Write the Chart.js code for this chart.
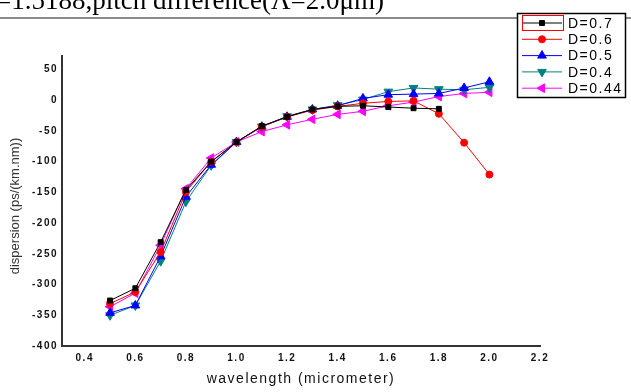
<!DOCTYPE html>
<html>
<head>
<meta charset="utf-8">
<script src="https://cdn.jsdelivr.net/npm/chart.js@4.4.0/dist/chart.umd.min.js"></script>
<style>
  body { margin: 0; background: #fff; }
</style>
</head>
<body>
<canvas id="dispChart" width="631" height="392"></canvas>

<script>
// values (ps/(km.nm)) against wavelength in micrometer
var wavelength = [0.5, 0.6, 0.7, 0.8, 0.9, 1.0, 1.1, 1.2, 1.3, 1.4, 1.5, 1.6, 1.7, 1.8, 1.9, 2.0];
var d07  = [-326, -306, -231, -146, -100, -68, -42, -27, -15, -10, -9, -11, -13, -14];
var d06  = [-331, -312, -247, -149, -100, -68, -43, -27, -16, -10, -5, -2, -1, -22, -69, -121];
var d05  = [-346, -334, -254, -157, -105, -68, -43, -27, -15, -9, 3, 9, 10, 11, 20, 30];
var d04  = [-350, -334, -262, -165, -106, -68, -43, -26, -15, -8, 1, 14, 20, 18, 17, 21];
var d044 = [-336, -314, -236, -144, -94, -68, -51, -40, -31, -23, -18, -9, -3, 6, 11, 13];

var seriesNames = ["D=0.7", "D=0.6", "D=0.5", "D=0.4", "D=0.44"];
var xTicks = [0.4, 0.6, 0.8, 1.0, 1.2, 1.4, 1.6, 1.8, 2.0, 2.2];
var yTicks = [-400, -350, -300, -250, -200, -150, -100, -50, 0, 50];
var heading = "=1.5188,pitch difference(\u039B=2.0\u03BCm)";
var yTitle = "dispersion (ps/(km.nm))";

function toPoints(ys) {
  return ys.map(function (v, i) { return { x: wavelength[i], y: v }; });
}

function series(label, ys, color, style, rot, r) {
  return {
    label: label,
    data: toPoints(ys),
    borderColor: color,
    backgroundColor: color,
    borderWidth: 1,
    pointStyle: style,
    pointRotation: rot,
    pointRadius: r,
    pointBorderWidth: 1,
    tension: 0
  };
}

var spacing = {
  id: 'spacing',
  beforeDraw: function (chart) { chart.ctx.letterSpacing = '1.5px'; }
};

// cropped caption line + rule at the top of the page
var header = {
  id: 'header',
  beforeDraw: function (chart) {
    var ctx = chart.ctx;
    ctx.save();
    ctx.letterSpacing = '0px';
    ctx.fillStyle = '#000';
    ctx.font = '27px "Liberation Serif", "Times New Roman", serif';
    ctx.textBaseline = 'alphabetic';
    ctx.fillText(heading, -4, 9);
    ctx.fillStyle = '#8a8a8a';
    ctx.fillRect(0, 17, 631, 2);
    ctx.restore();
  }
};

// y axis caption, no extra letter spacing
var sideTitle = {
  id: 'sideTitle',
  afterDraw: function (chart) {
    var ctx = chart.ctx;
    ctx.save();
    ctx.letterSpacing = '0px';
    ctx.translate(15, 206);
    ctx.rotate(-Math.PI / 2);
    ctx.fillStyle = '#333';
    ctx.font = '13px "Liberation Sans", Arial, sans-serif';
    ctx.textAlign = 'center';
    ctx.textBaseline = 'middle';
    ctx.fillText(yTitle, 0, 0);
    ctx.restore();
  }
};

// boxed legend with line + marker samples
var boxLegend = {
  id: 'boxLegend',
  afterDraw: function (chart) {
    var ctx = chart.ctx;
    var x0 = 517, y0 = 13, w = 108, h = 84;
    ctx.save();
    ctx.fillStyle = '#fff';
    ctx.fillRect(x0, y0, w, h);
    ctx.strokeStyle = '#000';
    ctx.lineWidth = 1.5;
    ctx.strokeRect(x0 + 0.5, y0 + 0.5, w, h);
    ctx.lineWidth = 1;
    ctx.font = '14px "Liberation Sans", Arial, sans-serif';
    ctx.letterSpacing = '1.5px';
    ctx.textBaseline = 'middle';
    chart.data.datasets.forEach(function (ds, i) {
      var y = 23 + i * 16.3;
      ctx.strokeStyle = ds.borderColor;
      ctx.fillStyle = ds.backgroundColor;
      ctx.beginPath();
      ctx.moveTo(522, y);
      ctx.lineTo(562, y);
      ctx.stroke();
      Chart.helpers.drawPoint(ctx, {
        pointStyle: ds.pointStyle, radius: ds.pointRadius,
        rotation: ds.pointRotation, borderWidth: 1
      }, 542, y);
      ctx.fillStyle = '#000';
      ctx.fillText(ds.label, 568, y + 1);
    });
    ctx.strokeStyle = '#ff0000';
    ctx.strokeRect(522.5, 15.5, 41, 15);
    ctx.restore();
  }
};

var cfg = {
  type: 'line',
  data: {
    datasets: [
      series(seriesNames[0], d07, '#000000', 'rect', 0, 3.5),
      series(seriesNames[1], d06, '#ff0000', 'circle', 0, 3.5),
      series(seriesNames[2], d05, '#0000ff', 'triangle', 0, 5),
      series(seriesNames[3], d04, '#008080', 'triangle', 180, 5),
      series(seriesNames[4], d044, '#ff00ff', 'triangle', -90, 5)
    ]
  },
  options: {
    responsive: false,
    animation: false,
    layout: { padding: { left: 0, top: 56, right: 91, bottom: 0 } },
    plugins: { legend: { display: false }, tooltip: { enabled: false } },
    scales: {
      x: {
        type: 'linear',
        min: 0.31,
        max: 2.2,
        grid: { display: false, drawTicks: false },
        border: { display: true, color: '#333', width: 2 },
        afterFit: function (s) { s.height = 46; },
        afterBuildTicks: function (s) { s.ticks = xTicks.map(function (v) { return { value: v }; }); },
        ticks: {
          padding: 6,
          color: '#111',
          font: { family: '"Liberation Sans", Arial, sans-serif', size: 10, weight: 'bold' },
          callback: function (v) { return v.toFixed(1); }
        },
        title: {
          display: true,
          text: 'wavelength (micrometer)',
          color: '#111',
          padding: { top: 0, bottom: 4 },
          font: { family: '"Liberation Sans", Arial, sans-serif', size: 14 }
        }
      },
      y: {
        min: -400,
        max: 72,
        grid: { display: false, drawTicks: false },
        border: { display: true, color: '#333', width: 2 },
        afterFit: function (s) { s.width = 62; },
        afterBuildTicks: function (s) { s.ticks = yTicks.map(function (v) { return { value: v }; }); },
        ticks: {
          padding: 4,
          color: '#111',
          font: { family: '"Liberation Sans", Arial, sans-serif', size: 10, weight: 'bold' }
        }
      }
    }
  },
  plugins: [spacing, header, sideTitle, boxLegend]
};

var disp_chart = new Chart(document.getElementById('dispChart'), cfg);
</script>
</body>
</html>
